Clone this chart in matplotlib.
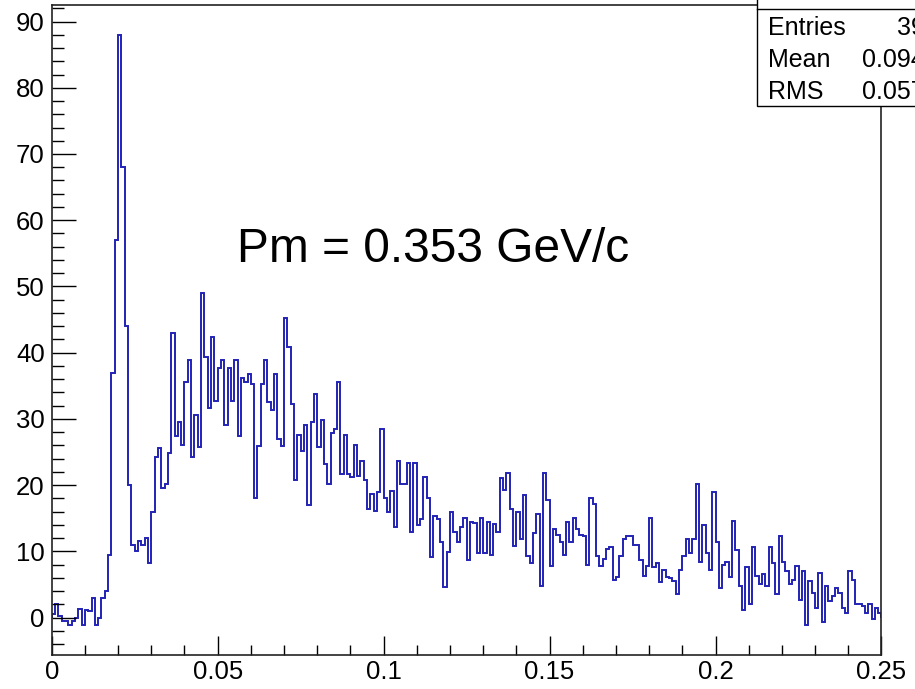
import numpy as np
import matplotlib
matplotlib.use("Agg")
import matplotlib.pyplot as plt
from matplotlib.patches import Rectangle
from matplotlib.lines import Line2D
from matplotlib.ticker import MultipleLocator, FixedLocator

plt.rcParams['font.family'] = ['Liberation Sans', 'DejaVu Sans']

# ---- data: 250 bins between 0 and 0.25 ----
x_min, x_max, n_bins = 0.0, 0.25, 250
counts = [
    0.5, 2.0, 0.3, -0.6, -0.6, -1.1, -0.5, 0.0, 1.3, -1.2,
    1.2, 1.0, 2.9, -1.2, 0.0, 3.0, 4.0, 9.5, 37, 57,
    88, 68, 44, 20, 11, 10, 11.5, 11, 12, 8.3,
    16, 24.3, 25.6, 19.6, 20.1, 24.8, 43, 27.4, 29.5, 26,
    35.6, 38.9, 24.3, 30.6, 25.8, 49, 39.4, 31.6, 42.3, 32.7,
    37.7, 38.9, 29.1, 37.7, 32.7, 38.9, 27.4, 36.2, 35.6, 36.8,
    35.3, 18, 25.9, 35.3, 38.9, 32.6, 31.4, 36.8, 26.9, 25.9,
    45.2, 40.8, 32.2, 20.8, 27.6, 25.2, 29.1, 17, 29.6, 33.7,
    25.7, 29.9, 23.2, 20.2, 27.9, 28.4, 35.6, 21.7, 27.6, 21.6,
    21.2, 26.1, 21.4, 23.6, 20.8, 16.4, 18.6, 16.1, 19, 28.4,
    18, 15.9, 19.1, 13.6, 23.6, 20.1, 20.1, 23.4, 12.9, 23.4,
    13.9, 14.9, 21.2, 18.1, 9.2, 15.4, 14.9, 11.4, 4.6, 9.9,
    15.9, 12.9, 11.4, 13.6, 15.1, 8.7, 14.4, 14.2, 9.8, 15.1,
    9.8, 14.4, 9.4, 14.1, 12.9, 21.1, 19.2, 21.8, 16.4, 10.8,
    15.9, 11.8, 18.5, 9.3, 8.2, 12.8, 15.6, 4.7, 21.8, 17.7,
    7.8, 13.4, 12.4, 11.4, 9.4, 14.4, 11.4, 15.1, 13.3, 12.4,
    12.3, 7.9, 18, 17.1, 9.3, 7.8, 8.9, 10.4, 10.7, 5.7,
    6.1, 9.3, 11.9, 12.3, 12.3, 10.9, 10.9, 8.7, 6.3, 7.8,
    15.1, 7.6, 8.3, 5.3, 7.2, 6.1, 5.9, 5.5, 3.6, 7.2,
    9.3, 11.8, 9.8, 11.9, 20.1, 8.4, 13.9, 9.7, 7.2, 19,
    11.4, 4.5, 7.9, 8.4, 6.1, 14.6, 10.2, 4.7, 1.1, 7.6,
    2.1, 10.7, 6.2, 5.0, 6.5, 4.7, 10.7, 8.2, 3.5, 12.3,
    8.4, 7.0, 5.0, 5.7, 7.8, 2.7, 7.0, -1.2, 5.5, 3.7,
    1.5, 6.7, -0.7, 4.7, 2.5, 3.2, 4.5, 3.7, 1.5, 0.75,
    7.0, 5.7, 2.0, 2.0, 1.7, 0.75, 2.1, -0.2, 1.5, 0.75,
]
x_major_ticks = [0, 0.05, 0.1, 0.15, 0.2, 0.25]
x_tick_labels = ["0", "0.05", "0.1", "0.15", "0.2", "0.25"]
y_major_ticks = [0, 10, 20, 30, 40, 50, 60, 70, 80, 90]
annotation = "Pm = 0.353 GeV/c"
stats_rows = [("Entries", "3947"), ("Mean", "0.09437"), ("RMS", "0.05738")]

edges = np.linspace(x_min, x_max, n_bins + 1)

W, H = 915, 689
fig = plt.figure(figsize=(W / 100, H / 100), dpi=100)
ax = fig.add_axes([51.7 / W, 1 - 655 / H, (881.5 - 51.7) / W, (655 - 5) / H])

ax.stairs(counts, edges, color='#2323b4', lw=1.4)

ax.set_xlim(x_min, x_max)
ax.set_ylim(-5.66, 92.5)

ax.xaxis.set_major_locator(FixedLocator(x_major_ticks))
ax.xaxis.set_minor_locator(MultipleLocator(0.01))
ax.set_xticklabels(x_tick_labels)
ax.yaxis.set_major_locator(FixedLocator(y_major_ticks))
ax.yaxis.set_minor_locator(MultipleLocator(2))

ax.tick_params(axis='both', which='both', direction='in', top=False, right=False,
               labelsize=18.5, color='black')
ax.tick_params(axis='y', which='major', length=17.5, width=1.0, pad=5)
ax.tick_params(axis='y', which='minor', length=8.8, width=1.0)
ax.tick_params(axis='x', which='major', length=14, width=1.0, pad=3.5)
ax.tick_params(axis='x', which='minor', length=7, width=1.0)
for s in ax.spines.values():
    s.set_linewidth(1.2)
    s.set_color('#222222')

# annotation
ax.text(237 / W, 1 - 262 / H, annotation, transform=fig.transFigure,
        fontsize=34.5, ha='left', va='baseline', color='black')

# stats box (cut off by the figure edge)
bx0 = 756.7 / W
fig.add_artist(Rectangle((bx0, 1 - 106 / H), 1.0, 0.3, transform=fig.transFigure,
                         facecolor='white', edgecolor='black', lw=1.0, zorder=10))
fig.add_artist(Line2D([bx0, 1.0], [1 - 9.3 / H, 1 - 9.3 / H], transform=fig.transFigure,
                      color='black', lw=1.0, zorder=11))
row_base = [35, 67, 99]
val_x = [896.7, 861.7, 861.7]
for (lab, val), yb, vx in zip(stats_rows, row_base, val_x):
    fig.text(768 / W, 1 - yb / H, lab, fontsize=18, ha='left', va='baseline', zorder=12)
    fig.text(vx / W, 1 - yb / H, val, fontsize=18, ha='left', va='baseline', zorder=12)

fig.savefig("out.png", dpi=100)
